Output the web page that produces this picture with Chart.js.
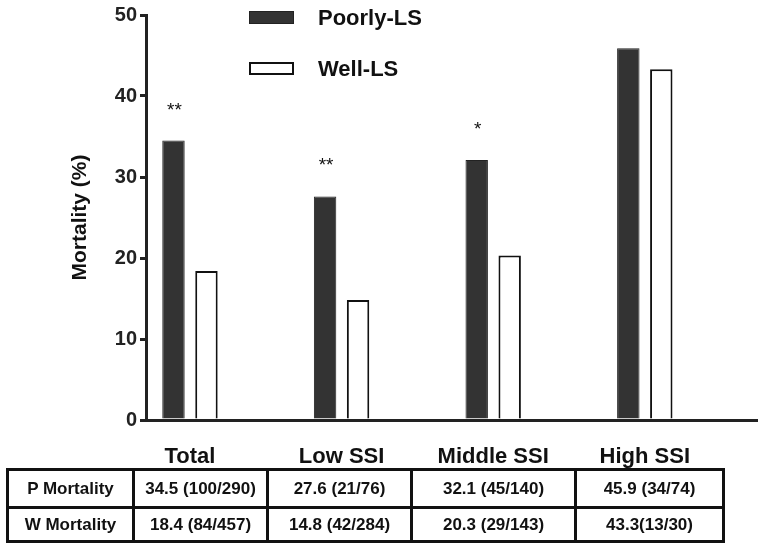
<!DOCTYPE html>
<html><head><meta charset="utf-8">
<script src="https://cdn.jsdelivr.net/npm/chart.js@4.4.1/dist/chart.umd.min.js"></script>
<style>
html,body{margin:0;padding:0;background:#fff;}
#wrap{position:relative;width:765px;height:548px;overflow:hidden;font-family:"Liberation Sans",Arial,sans-serif;background:#fff;}
#cv{position:absolute;left:0;top:0;}
.sw{position:absolute;width:45px;height:13px;box-sizing:border-box;}
.lt{position:absolute;font-weight:bold;font-size:22px;line-height:22px;color:#111;white-space:nowrap;}
#tbl{position:absolute;left:6px;top:468px;border-collapse:collapse;table-layout:fixed;}
#tbl td{border:3px solid #111;text-align:center;font-weight:bold;font-size:17px;color:#111;padding:0;white-space:nowrap;overflow:hidden;}
</style></head>
<body>
<div id="wrap">
<canvas id="cv" width="765" height="548"></canvas>
<div id="legend"></div>
<table id="tbl"></table>
</div>
<script>
const categories = ['Total', 'Low SSI', 'Middle SSI', 'High SSI'];
const seriesLabels = ['Poorly-LS', 'Well-LS'];
const poorlyValues = [34.5, 27.6, 32.1, 45.9];
const wellValues = [18.4, 14.8, 20.3, 43.3];
const significance = ['**', '**', '*', ''];
const rowLabels = ['P Mortality', 'W Mortality'];
const poorlyCounts = ['34.5 (100/290)', '27.6 (21/76)', '32.1 (45/140)', '45.9 (34/74)'];
const wellCounts = ['18.4 (84/457)', '14.8 (42/284)', '20.3 (29/143)', '43.3(13/30)'];

const FONT = '"Liberation Sans", Arial, sans-serif';
const colors = [
  {bg: '#333333', border: '#222222', bw: 1},
  {bg: '#ffffff', border: '#111111', bw: 2}
];

const sigPlugin = {
  id: 'sig',
  afterDatasetsDraw(chart) {
    const meta = chart.getDatasetMeta(0);
    const ctx = chart.ctx;
    ctx.save();
    ctx.font = '19px ' + FONT;
    ctx.fillStyle = '#111';
    ctx.textAlign = 'center';
    ctx.textBaseline = 'alphabetic';
    meta.data.forEach((bar, i) => {
      if (significance[i]) ctx.fillText(significance[i], bar.x + 1, bar.y - 25);
    });
    ctx.restore();
  }
};

const chart = new Chart(document.getElementById('cv'), {
  type: 'bar',
  data: {
    datasets: [
      {
        label: seriesLabels[0],
        data: categories.map((c, i) => ({x: i, y: poorlyValues[i]})),
        backgroundColor: colors[0].bg, borderColor: colors[0].border, borderWidth: colors[0].bw,
        categoryPercentage: 0.435, barPercentage: 0.68
      },
      {
        label: seriesLabels[1],
        data: categories.map((c, i) => ({x: i, y: wellValues[i]})),
        backgroundColor: colors[1].bg, borderColor: colors[1].border, borderWidth: colors[1].bw,
        categoryPercentage: 0.435, barPercentage: 0.68
      }
    ]
  },
  options: {
    responsive: false,
    animation: false,
    devicePixelRatio: 1,
    layout: {padding: {top: 13.5, right: 8, left: 0, bottom: 0}},
    plugins: {legend: {display: false}, tooltip: {enabled: false}},
    scales: {
      x: {
        type: 'linear', min: -0.29, max: 3.74, offset: false,
        afterBuildTicks: s => { s.ticks = categories.map((c, i) => ({value: i})); },
        afterFit: s => { s.height = 128; },
        grid: {display: false},
        border: {display: true, width: 3, color: '#222'},
        ticks: {
          autoSkip: false, maxRotation: 0, padding: 16, color: '#111',
          font: {family: FONT, size: 22, weight: 'bold'},
          callback: (v, idx) => categories[idx]
        }
      },
      y: {
        min: 0, max: 50,
        afterFit: s => { s.width = 146; },
        ticks: {stepSize: 10, padding: 3, color: '#222', font: {family: FONT, size: 20, weight: 'bold'}},
        grid: {display: true, drawOnChartArea: false, drawTicks: true, tickLength: 6, lineWidth: 3, color: '#222'},
        border: {display: true, width: 3, color: '#222'},
        title: {display: true, text: 'Mortality (%)', color: '#111', padding: {top: 68, bottom: 0},
          font: {family: FONT, size: 21, weight: 'bold'}}
      }
    }
  },
  plugins: [sigPlugin]
});

// legend built from datasets
const legend = document.getElementById('legend');
const legendTops = [11, 62];
chart.data.datasets.forEach((ds, i) => {
  const sw = document.createElement('div');
  sw.className = 'sw';
  sw.style.left = '249px';
  sw.style.top = legendTops[i] + 'px';
  sw.style.background = ds.backgroundColor;
  sw.style.border = ds.borderWidth + 'px solid ' + ds.borderColor;
  legend.appendChild(sw);
  const t = document.createElement('div');
  t.className = 'lt';
  t.style.left = '318px';
  t.style.top = (legendTops[i] - 4) + 'px';
  t.textContent = ds.label;
  legend.appendChild(t);
});

// table
const tbl = document.getElementById('tbl');
const colWidths = [126, 134, 144, 164, 148];
const cg = document.createElement('colgroup');
colWidths.forEach(w => { const c = document.createElement('col'); c.style.width = w + 'px'; cg.appendChild(c); });
tbl.appendChild(cg);
const rowHeights = [38, 34];
[poorlyCounts, wellCounts].forEach((vals, r) => {
  const tr = document.createElement('tr');
  tr.style.height = rowHeights[r] + 'px';
  [rowLabels[r]].concat(vals).forEach(txt => {
    const td = document.createElement('td');
    td.textContent = txt;
    tr.appendChild(td);
  });
  tbl.appendChild(tr);
});
</script>
</body></html>
